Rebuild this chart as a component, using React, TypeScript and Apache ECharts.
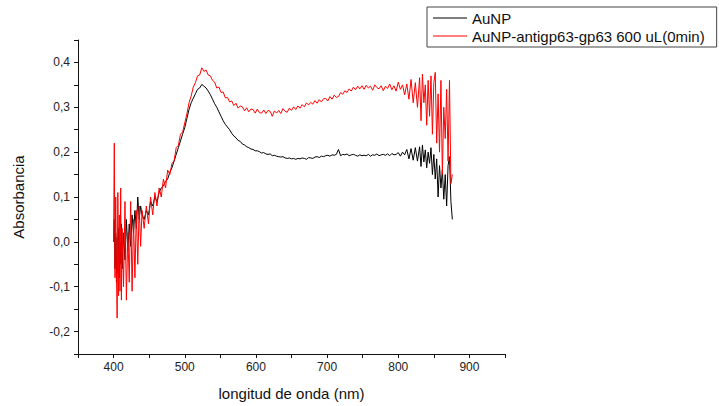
import React, { useEffect, useRef } from "react";
import * as echarts from "echarts";

// Wavelength (nm), shared by both spectra
const wavelengths: number[] = [
  400, 401, 402, 403, 404, 405, 406, 407, 408, 409,
  410, 411, 412, 414, 416, 418, 420, 422, 424, 426,
  428, 430, 432, 434, 436, 438, 440, 443, 446, 449,
  452, 455, 458, 461, 464, 467, 470, 473, 476, 479,
  482, 485, 488, 491, 494, 497, 500, 503, 506, 509,
  512, 515, 518, 521, 524, 527, 530, 533, 536, 539,
  542, 545, 548, 551, 554, 557, 560, 563, 566, 569,
  572, 575, 578, 581, 584, 587, 590, 593, 596, 599,
  602, 605, 608, 611, 614, 617, 620, 623, 626, 629,
  632, 635, 638, 641, 644, 647, 650, 653, 656, 659,
  662, 665, 668, 671, 674, 677, 680, 683, 686, 689,
  692, 695, 698, 701, 704, 707, 710, 713, 716, 719,
  722, 725, 728, 731, 734, 737, 740, 743, 746, 749,
  752, 755, 758, 761, 764, 767, 770, 773, 776, 779,
  782, 785, 788, 791, 794, 797, 800, 803, 806, 809,
  812, 815, 818, 821, 824, 827, 830, 832, 834, 836,
  838, 840, 842, 844, 846, 848, 850, 852, 854, 856,
  858, 860, 862, 864, 866, 868, 870, 872, 874, 876,
];

// AuNP absorbance
const aunp: number[] = [
  0.0, 0.05, -0.06, 0.02, -0.09, 0.01, -0.07, 0.03, -0.08, 0.0,
  -0.05, 0.04, -0.06, 0.02, -0.04, 0.05, -0.02, 0.04, -0.01, 0.06,
  0.02, 0.07, 0.03, 0.1, 0.05, 0.08, 0.06, 0.05, 0.07, 0.06,
  0.09, 0.08, 0.1, 0.09, 0.11, 0.12, 0.125, 0.135, 0.14, 0.155,
  0.165, 0.18, 0.195, 0.21, 0.225, 0.24, 0.255, 0.275, 0.295, 0.31,
  0.32, 0.33, 0.34, 0.343, 0.351, 0.347, 0.343, 0.336, 0.328, 0.318,
  0.308, 0.3, 0.29, 0.28, 0.27, 0.262, 0.256, 0.25, 0.242, 0.236,
  0.232, 0.226, 0.224, 0.218, 0.216, 0.212, 0.21, 0.207, 0.206, 0.203,
  0.203, 0.201, 0.198, 0.199, 0.196, 0.195, 0.196, 0.192, 0.193, 0.191,
  0.19, 0.189, 0.19, 0.187, 0.186, 0.187, 0.185, 0.186, 0.184, 0.186,
  0.185, 0.187, 0.186, 0.184, 0.188, 0.187, 0.186, 0.189, 0.19, 0.188,
  0.191, 0.19, 0.192, 0.193, 0.191, 0.194, 0.193, 0.195, 0.206, 0.192,
  0.195, 0.194, 0.196, 0.192, 0.194, 0.195, 0.193, 0.191, 0.194, 0.192,
  0.193, 0.192, 0.195, 0.191, 0.194, 0.193, 0.196, 0.192, 0.194, 0.195,
  0.193, 0.196, 0.192, 0.197, 0.194, 0.195, 0.199, 0.191, 0.2, 0.194,
  0.206, 0.185, 0.208, 0.182, 0.21, 0.18, 0.212, 0.168, 0.216, 0.178,
  0.205, 0.165, 0.2, 0.175, 0.21, 0.15, 0.195, 0.14, 0.185, 0.1,
  0.17, 0.12, 0.16, 0.095, 0.15, 0.08, 0.17, 0.19, 0.09, 0.05,
];

// AuNP-antigp63-gp63 600 uL (0 min) absorbance
const aunpAntigp63: number[] = [
  0.0, 0.22, -0.08, 0.1, -0.06, -0.17, 0.11, -0.12, 0.06, -0.11,
  0.12, -0.13, 0.03, -0.1, 0.09, -0.13, 0.02, -0.09, 0.09, -0.11,
  0.05, -0.08, 0.07, -0.05, 0.08, -0.01, 0.07, 0.03, 0.08, 0.04,
  0.1, 0.06, 0.11, 0.08, 0.12, 0.1, 0.14, 0.12, 0.16, 0.15,
  0.175, 0.18, 0.21, 0.215, 0.24, 0.245, 0.265, 0.285, 0.31, 0.325,
  0.345, 0.355, 0.37, 0.372, 0.388, 0.38, 0.383, 0.372, 0.37, 0.36,
  0.356, 0.343, 0.345, 0.333, 0.334, 0.321, 0.322, 0.312, 0.314, 0.304,
  0.309, 0.298, 0.303, 0.301, 0.292, 0.299, 0.29, 0.296, 0.295, 0.287,
  0.296, 0.288, 0.287, 0.294, 0.286, 0.293, 0.291, 0.28, 0.292, 0.287,
  0.293, 0.286, 0.297, 0.291, 0.289, 0.298, 0.293, 0.301, 0.295, 0.303,
  0.298, 0.306, 0.301, 0.31, 0.305, 0.311, 0.307, 0.315, 0.309, 0.317,
  0.312, 0.319, 0.32, 0.314, 0.324, 0.318, 0.327, 0.322, 0.324, 0.333,
  0.329, 0.337, 0.333, 0.341, 0.336, 0.345, 0.339, 0.347, 0.341, 0.348,
  0.34, 0.349, 0.343, 0.347, 0.338, 0.35, 0.344, 0.341, 0.348, 0.337,
  0.347, 0.342, 0.352, 0.339, 0.348, 0.336, 0.356, 0.34, 0.35, 0.328,
  0.352, 0.318, 0.362, 0.31, 0.355, 0.3, 0.366, 0.27, 0.374, 0.31,
  0.35, 0.26, 0.36, 0.28, 0.37, 0.24, 0.355, 0.378, 0.22, 0.33,
  0.2, 0.36, 0.15, 0.3, 0.23, 0.34, 0.18, 0.36, 0.13, 0.15,
];

const seriesNames = ["AuNP", "AuNP-antigp63-gp63 600 uL(0min)"];
const xTitle = "longitud de onda (nm)";
const yTitle = "Absorbancia";

const FONT = "'Liberation Sans', Arial, sans-serif";

export default function App() {
  const ref = useRef<HTMLDivElement>(null);

  useEffect(() => {
    if (!ref.current) return;
    const chart = echarts.init(ref.current, undefined, { renderer: "svg" });
    const blackData = wavelengths.map((w, i) => [w, aunp[i]]);
    const redData = wavelengths.map((w, i) => [w, aunpAntigp63[i]]);

    chart.setOption({
      animation: false,
      backgroundColor: "#ffffff",
      textStyle: { fontFamily: FONT },
      grid: { left: 78, right: 214, top: 40, bottom: 50, containLabel: false },
      legend: {
        orient: "vertical",
        left: 427,
        top: 7,
        padding: [2, 12, 2, 6],
        icon: "rect",
        itemWidth: 34,
        itemHeight: 1,
        itemGap: 0,
        borderColor: "#444",
        borderWidth: 1,
        textStyle: { fontFamily: FONT, fontSize: 15, color: "#111", lineHeight: 18 },
        data: seriesNames,
      },
      xAxis: {
        type: "value",
        min: 350,
        max: 950,
        interval: 50,
        name: xTitle,
        nameLocation: "middle",
        nameGap: 32,
        nameTextStyle: { fontFamily: FONT, fontSize: 15, color: "#111" },
        axisLine: { onZero: false, lineStyle: { color: "#111", width: 1 } },
        axisTick: { show: true, inside: false, length: 4, lineStyle: { color: "#111" } },
        axisLabel: {
          fontFamily: FONT,
          fontSize: 12,
          color: "#222",
          margin: 7,
          formatter: (v: number) => (Math.round(v) % 100 === 0 ? String(Math.round(v)) : ""),
        },
        splitLine: { show: false },
      },
      yAxis: {
        type: "value",
        min: -0.25,
        max: 0.45,
        interval: 0.05,
        name: yTitle,
        nameLocation: "middle",
        nameRotate: 90,
        nameGap: 52,
        nameTextStyle: { fontFamily: FONT, fontSize: 15, color: "#111" },
        axisLine: { onZero: false, lineStyle: { color: "#111", width: 1 } },
        axisTick: { show: true, inside: false, length: 4, lineStyle: { color: "#111" } },
        axisLabel: {
          fontFamily: FONT,
          fontSize: 12,
          color: "#222",
          margin: 8,
          formatter: (v: number) => {
            const k = Math.round(v * 20);
            if (k % 2 !== 0) return "";
            return (k / 20).toFixed(1).replace(".", ",");
          },
        },
        splitLine: { show: false },
      },
      series: [
        {
          name: seriesNames[0],
          type: "line",
          data: blackData,
          symbol: "none",
          lineStyle: { color: "#000000", width: 1 },
          itemStyle: { color: "#000000" },
        },
        {
          name: seriesNames[1],
          type: "line",
          data: redData,
          symbol: "none",
          lineStyle: { color: "#ff0000", width: 1 },
          itemStyle: { color: "#ff0000" },
        },
      ],
    });

    return () => chart.dispose();
  }, []);

  return (
    <div
      ref={ref}
      style={{ position: "fixed", left: 0, top: 0, width: 719, height: 406, background: "#fff" }}
    />
  );
}
